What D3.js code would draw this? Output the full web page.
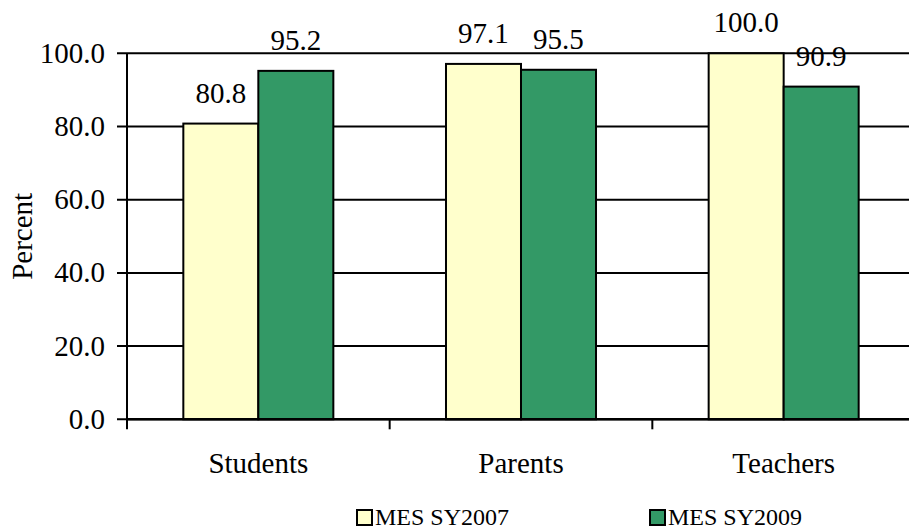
<!DOCTYPE html>
<html>
<head>
<meta charset="utf-8">
<script src="https://cdn.jsdelivr.net/npm/d3@7"></script>
<style>
  body { margin: 0; background: #fff; }
  svg { display: block; font-family: "Liberation Serif", "Times New Roman", serif; }
</style>
</head>
<body>
<div class="content"></div>
<script>

var categories = ["Students", "Parents", "Teachers"];
var seriesNames = ["MES SY2007", "MES SY2009"];
var sy2007 = [80.8, 97.1, 100.0];
var sy2009 = [95.2, 95.5, 90.9];
var yTicks = [0, 20, 40, 60, 80, 100];

var colors = ["#ffffcc", "#339966"];

var width = 909, height = 531;
var plotLeft = 127, plotRight = 915, plotTop = 53.3, plotBottom = 419.3;
var fontSize = "29px";

var svg = d3.select(".content").append("svg")
   .attr("width", width)
   .attr("height", height);

var x0 = d3.scaleBand().domain(categories).range([plotLeft, plotRight]).padding(0);
var x1 = d3.scaleBand().domain(seriesNames).range([0, x0.step()])
   .paddingInner(0).paddingOuter(0.751);
var y = d3.scaleLinear().domain([0, 100]).range([plotBottom, plotTop]);

var rows = categories.map(function(c, i) {
   return { cat: c, vals: [sy2007[i], sy2009[i]] };
});

// gridlines
svg.append("g")
   .selectAll("line")
   .data(yTicks)
   .enter().append("line")
   .attr("x1", plotLeft - 10)
   .attr("x2", width)
   .attr("y1", d => y(d))
   .attr("y2", d => y(d))
   .attr("stroke", "#000")
   .attr("stroke-width", 2);

// y tick labels
svg.append("g")
   .selectAll("text")
   .data(yTicks)
   .enter().append("text")
   .attr("x", plotLeft - 22)
   .attr("y", d => y(d) + 9.5)
   .attr("text-anchor", "end")
   .attr("font-size", fontSize)
   .text(d => d3.format(".1f")(d));

// bars
var groups = svg.append("g")
   .selectAll("g")
   .data(rows)
   .enter().append("g")
   .attr("transform", d => "translate(" + x0(d.cat) + ",0)");

groups.selectAll("rect")
   .data(d => d.vals.map((v, j) => ({ key: seriesNames[j], v: v, j: j })))
   .enter().append("rect")
   .attr("x", d => x1(d.key))
   .attr("y", d => y(d.v))
   .attr("width", x1.bandwidth())
   .attr("height", d => y(0) - y(d.v))
   .attr("fill", d => colors[d.j])
   .attr("stroke", "#000")
   .attr("stroke-width", 2);

groups.selectAll("text")
   .data(d => d.vals.map((v, j) => ({ key: seriesNames[j], v: v })))
   .enter().append("text")
   .attr("x", d => x1(d.key) + x1.bandwidth() / 2)
   .attr("y", d => y(d.v) - 21)
   .attr("text-anchor", "middle")
   .attr("font-size", fontSize)
   .text(d => d3.format(".1f")(d.v));

// axis lines
svg.append("line")
   .attr("x1", plotLeft).attr("x2", plotLeft)
   .attr("y1", plotTop).attr("y2", plotBottom + 10)
   .attr("stroke", "#000").attr("stroke-width", 2);

svg.append("line")
   .attr("x1", plotLeft).attr("x2", width)
   .attr("y1", plotBottom).attr("y2", plotBottom)
   .attr("stroke", "#000").attr("stroke-width", 2.5);

// x ticks at band boundaries
svg.append("g")
   .selectAll("line")
   .data(categories.slice(1))
   .enter().append("line")
   .attr("x1", d => x0(d)).attr("x2", d => x0(d))
   .attr("y1", plotBottom).attr("y2", plotBottom + 10)
   .attr("stroke", "#000").attr("stroke-width", 2);

// category labels
svg.append("g")
   .selectAll("text")
   .data(categories)
   .enter().append("text")
   .attr("x", d => x0(d) + x0.bandwidth() / 2)
   .attr("y", 472.5)
   .attr("text-anchor", "middle")
   .attr("font-size", fontSize)
   .text(d => d);

// y axis title
svg.append("text")
   .attr("transform", "translate(32," + ((plotTop + plotBottom) / 2) + ") rotate(-90)")
   .attr("text-anchor", "middle")
   .attr("font-size", fontSize)
   .text("Percent");

// legend
var legendX = [357, 650];
var legend = svg.append("g")
   .selectAll("g")
   .data(seriesNames)
   .enter().append("g")
   .attr("transform", (d, i) => "translate(" + legendX[i] + ",510)");

legend.append("rect")
   .attr("x", 0).attr("y", 0)
   .attr("width", 15).attr("height", 15)
   .attr("fill", (d, i) => colors[i])
   .attr("stroke", "#000")
   .attr("stroke-width", 2);

legend.append("text")
   .attr("x", 18)
   .attr("y", 15)
   .attr("font-size", "24px")
   .text(d => d);

</script>
</body>
</html>
